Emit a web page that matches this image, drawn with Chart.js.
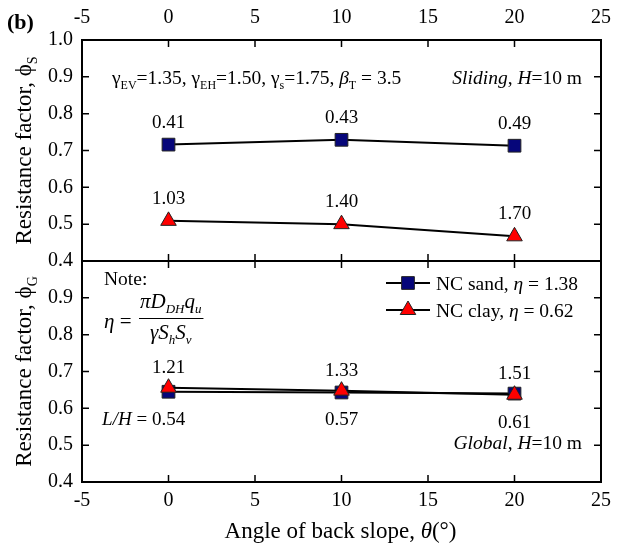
<!DOCTYPE html>
<html><head><meta charset="utf-8">
<script src="https://cdn.jsdelivr.net/npm/chart.js@4.4.1/dist/chart.umd.min.js"></script>
<style>html,body{margin:0;padding:0;background:#fff}#wrap{width:625px;height:547px;position:relative}</style>
</head><body>
<div id="wrap"><canvas id="c" width="625" height="547"></canvas></div>
<script>
// ---- data ----
const angles = [0, 10, 20];
const sandSliding = [0.716, 0.729, 0.713];
const claySliding = [0.509, 0.500, 0.467];
const sandGlobal = [0.645, 0.643, 0.640];
const clayGlobal = [0.656, 0.648, 0.637];
const sandSlidingEta = ['0.41', '0.43', '0.49'];
const claySlidingEta = ['1.03', '1.40', '1.70'];
const globalEta = ['1.21', '1.33', '1.51'];
const globalLH = ['0.54', '0.57', '0.61'];
const xTicks = [-5, 0, 5, 10, 15, 20, 25];
const yTicks = [0.4, 0.5, 0.6, 0.7, 0.8, 0.9, 1.0];

const FONT = '"Liberation Serif", "Times New Roman", serif';
const SAND_FILL = '#06067a';
const CLAY_FILL = '#ff0000';

function pts(ys) { return angles.map((x, i) => ({x: x, y: ys[i]})); }

function fontOf(r, base) {
  const size = r.sub ? Math.round(base * 0.62) : (r.size || base);
  return (r.b ? 'bold ' : '') + (r.i ? 'italic ' : '') + size + 'px ' + FONT;
}
function runsWidth(ctx, runs, base) {
  let w = 0;
  for (const r of runs) { ctx.font = fontOf(r, base); w += ctx.measureText(r.t).width; }
  return w;
}
function drawRuns(ctx, x, y, runs, base, align) {
  const w = runsWidth(ctx, runs, base);
  let cx = align === 'center' ? x - w / 2 : (align === 'right' ? x - w : x);
  ctx.textAlign = 'left';
  ctx.textBaseline = 'alphabetic';
  ctx.fillStyle = '#000';
  for (const r of runs) {
    ctx.font = fontOf(r, base);
    ctx.fillText(r.t, cx, y + (r.sub ? base * 0.25 : 0));
    cx += ctx.measureText(r.t).width;
  }
  return w;
}

const decor = {
  id: 'decor',
  afterDraw(chart) {
    const ctx = chart.ctx;
    const a = chart.chartArea;
    const sx = chart.scales.x, yS = chart.scales.yS, yG = chart.scales.yG;
    ctx.save();
    // frames
    ctx.strokeStyle = '#000';
    ctx.lineWidth = 2;
    const panels = [yS, yG];
    for (const p of panels) {
      ctx.strokeRect(a.left, p.top, a.right - a.left, p.bottom - p.top);
    }
    // inward ticks
    ctx.lineWidth = 1.5;
    const TL = 7;
    ctx.beginPath();
    for (const p of panels) {
      for (const v of yTicks) {
        const py = p.getPixelForValue(v);
        if (Math.abs(py - p.top) < 1 || Math.abs(py - p.bottom) < 1) continue;
        ctx.moveTo(a.left, py); ctx.lineTo(a.left + TL, py);
        ctx.moveTo(a.right, py); ctx.lineTo(a.right - TL, py);
      }
      for (const v of xTicks) {
        const px = sx.getPixelForValue(v);
        if (Math.abs(px - a.left) < 1 || Math.abs(px - a.right) < 1) continue;
        ctx.moveTo(px, p.top); ctx.lineTo(px, p.top + TL);
        ctx.moveTo(px, p.bottom); ctx.lineTo(px, p.bottom - TL);
      }
    }
    ctx.stroke();

    // (b)
    drawRuns(ctx, 7, 29, [{t: '(b)', b: true}], 22, 'left');

    // y titles
    const titleX = 31;
    const yTitles = [[yS, 'S'], [yG, 'G']];
    for (const [p, s] of yTitles) {
      ctx.save();
      ctx.translate(titleX, (p.top + p.bottom) / 2);
      ctx.rotate(-Math.PI / 2);
      drawRuns(ctx, 0, 0, [{t: 'Resistance factor, \u03D5'}, {t: s, sub: true}], 23, 'center');
      ctx.restore();
    }
    // x title
    drawRuns(ctx, (a.left + a.right) / 2 - 1, 538,
      [{t: 'Angle of back slope, '}, {t: '\u03B8', i: true}, {t: '(\u00B0)'}], 23, 'center');

    // top panel annotations
    const af = 19.5;
    drawRuns(ctx, 112, 84, [
      {t: '\u03B3'}, {t: 'EV', sub: true}, {t: '=1.35, '},
      {t: '\u03B3'}, {t: 'EH', sub: true}, {t: '=1.50, '},
      {t: '\u03B3'}, {t: 's', sub: true}, {t: '=1.75, '},
      {t: '\u03B2', i: true}, {t: 'T', sub: true}, {t: ' = 3.5'}
    ], af, 'left');
    drawRuns(ctx, 582, 84, [{t: 'Sliding', i: true}, {t: ', '}, {t: 'H', i: true}, {t: '=10 m'}], af, 'right');
    drawRuns(ctx, 582, 449, [{t: 'Global', i: true}, {t: ', '}, {t: 'H', i: true}, {t: '=10 m'}], af, 'right');

    // value labels
    const fs = 19;
    angles.forEach((x, i) => {
      const px = sx.getPixelForValue(x);
      drawRuns(ctx, px, yS.getPixelForValue(sandSliding[i]) - 24 + 7, [{t: sandSlidingEta[i]}], fs, 'center');
      drawRuns(ctx, px, yS.getPixelForValue(claySliding[i]) - 24 + 7, [{t: claySlidingEta[i]}], fs, 'center');
      const topY = yG.getPixelForValue(Math.max(sandGlobal[i], clayGlobal[i]));
      const botY = yG.getPixelForValue(Math.min(sandGlobal[i], clayGlobal[i]));
      drawRuns(ctx, px, topY - 22 + 7, [{t: globalEta[i]}], fs, 'center');
      const w = drawRuns(ctx, px, botY + 26 + 7, [{t: globalLH[i]}], fs, 'center');
      if (i === 0) {
        drawRuns(ctx, px - w / 2, botY + 26 + 7, [{t: 'L/H', i: true}, {t: ' = '}], fs, 'right');
      }
    });

    // Note + formula
    drawRuns(ctx, 104, 285, [{t: 'Note:'}], af, 'left');
    const fb = 21;
    drawRuns(ctx, 104, 328, [{t: '\u03B7', i: true}, {t: ' = '}], fb, 'left');
    const num = [{t: '\u03C0', i: true}, {t: 'D', i: true}, {t: 'DH', i: true, sub: true}, {t: 'q', i: true}, {t: 'u', i: true, sub: true}];
    const den = [{t: '\u03B3', i: true}, {t: 'S', i: true}, {t: 'h', i: true, sub: true}, {t: 'S', i: true}, {t: 'v', i: true, sub: true}];
    const nw = runsWidth(ctx, num, fb);
    const fx = 139;
    const fcx = fx + nw / 2 + 1;
    drawRuns(ctx, fcx, 308, num, fb, 'center');
    drawRuns(ctx, fcx, 339, den, fb, 'center');
    ctx.lineWidth = 1;
    ctx.beginPath();
    ctx.moveTo(fx, 318.5); ctx.lineTo(fx + nw + 3, 318.5);
    ctx.stroke();

    // legend
    const legend = [
      {y: 283, style: 'rect', fill: SAND_FILL, runs: [{t: 'NC sand, '}, {t: '\u03B7', i: true}, {t: ' = 1.38'}]},
      {y: 310, style: 'triangle', fill: CLAY_FILL, runs: [{t: 'NC clay, '}, {t: '\u03B7', i: true}, {t: ' = 0.62'}]}
    ];
    for (const L of legend) {
      ctx.strokeStyle = '#000';
      ctx.lineWidth = 2;
      ctx.beginPath(); ctx.moveTo(386, L.y); ctx.lineTo(430, L.y); ctx.stroke();
      ctx.fillStyle = L.fill; ctx.strokeStyle = '#222'; ctx.lineWidth = 1;
      Chart.helpers.drawPoint(ctx, {pointStyle: L.style, radius: 9, borderWidth: 1}, 408, L.y);
      drawRuns(ctx, 436, L.y + 7, L.runs, af, 'left');
    }
    ctx.restore();
  }
};

const tickFont = {family: FONT, size: 20};
function yAxis(hideTop) {
  return {
    type: 'linear', position: 'left', stack: 'panels', stackWeight: 1,
    min: 0.4, max: 1.0,
    afterBuildTicks: s => { s.ticks = yTicks.map(v => ({value: v})); },
    afterFit: s => { s.width = 82; },
    grid: {display: false, drawTicks: false},
    border: {display: false},
    ticks: {
      color: '#000', font: tickFont, padding: 9, autoSkip: false,
      callback: v => (hideTop && v > 0.999) ? '' : Number(v).toFixed(1)
    }
  };
}

new Chart(document.getElementById('c'), {
  type: 'scatter',
  data: {
    datasets: [
      {data: pts(sandSliding), yAxisID: 'yS', xAxisID: 'x', order: 2, showLine: true, borderColor: '#000', borderWidth: 2,
        pointStyle: 'rect', pointRadius: 9, pointBackgroundColor: SAND_FILL, pointBorderColor: '#222', pointBorderWidth: 1},
      {data: pts(claySliding), yAxisID: 'yS', xAxisID: 'x', order: 1, showLine: true, borderColor: '#000', borderWidth: 2,
        pointStyle: 'triangle', pointRadius: 9, pointBackgroundColor: CLAY_FILL, pointBorderColor: '#222', pointBorderWidth: 1},
      {data: pts(sandGlobal), yAxisID: 'yG', xAxisID: 'x', order: 2, showLine: true, borderColor: '#000', borderWidth: 2,
        pointStyle: 'rect', pointRadius: 9, pointBackgroundColor: SAND_FILL, pointBorderColor: '#222', pointBorderWidth: 1},
      {data: pts(clayGlobal), yAxisID: 'yG', xAxisID: 'x', order: 1, showLine: true, borderColor: '#000', borderWidth: 2,
        pointStyle: 'triangle', pointRadius: 9, pointBackgroundColor: CLAY_FILL, pointBorderColor: '#222', pointBorderWidth: 1}
    ]
  },
  options: {
    responsive: false, animation: false, devicePixelRatio: 1,
    layout: {padding: {right: 24, left: 0, top: 0, bottom: 0}},
    plugins: {legend: {display: false}, tooltip: {enabled: false}},
    elements: {line: {tension: 0}},
    scales: {
      x: {
        type: 'linear', position: 'bottom', min: -5, max: 25,
        afterBuildTicks: s => { s.ticks = xTicks.map(v => ({value: v})); },
        afterFit: s => { s.height = 65; },
        grid: {display: false, drawTicks: false}, border: {display: false},
        ticks: {color: '#000', font: tickFont, padding: 7, maxRotation: 0, autoSkip: false}
      },
      x2: {
        type: 'linear', position: 'top', min: -5, max: 25,
        afterBuildTicks: s => { s.ticks = xTicks.map(v => ({value: v})); },
        afterFit: s => { s.height = 40; },
        grid: {display: false, drawTicks: false}, border: {display: false},
        ticks: {color: '#000', font: tickFont, padding: 10, maxRotation: 0, autoSkip: false}
      },
      yG: yAxis(true),
      yS: yAxis(false)
    }
  },
  plugins: [decor]
});
</script>
</body></html>
